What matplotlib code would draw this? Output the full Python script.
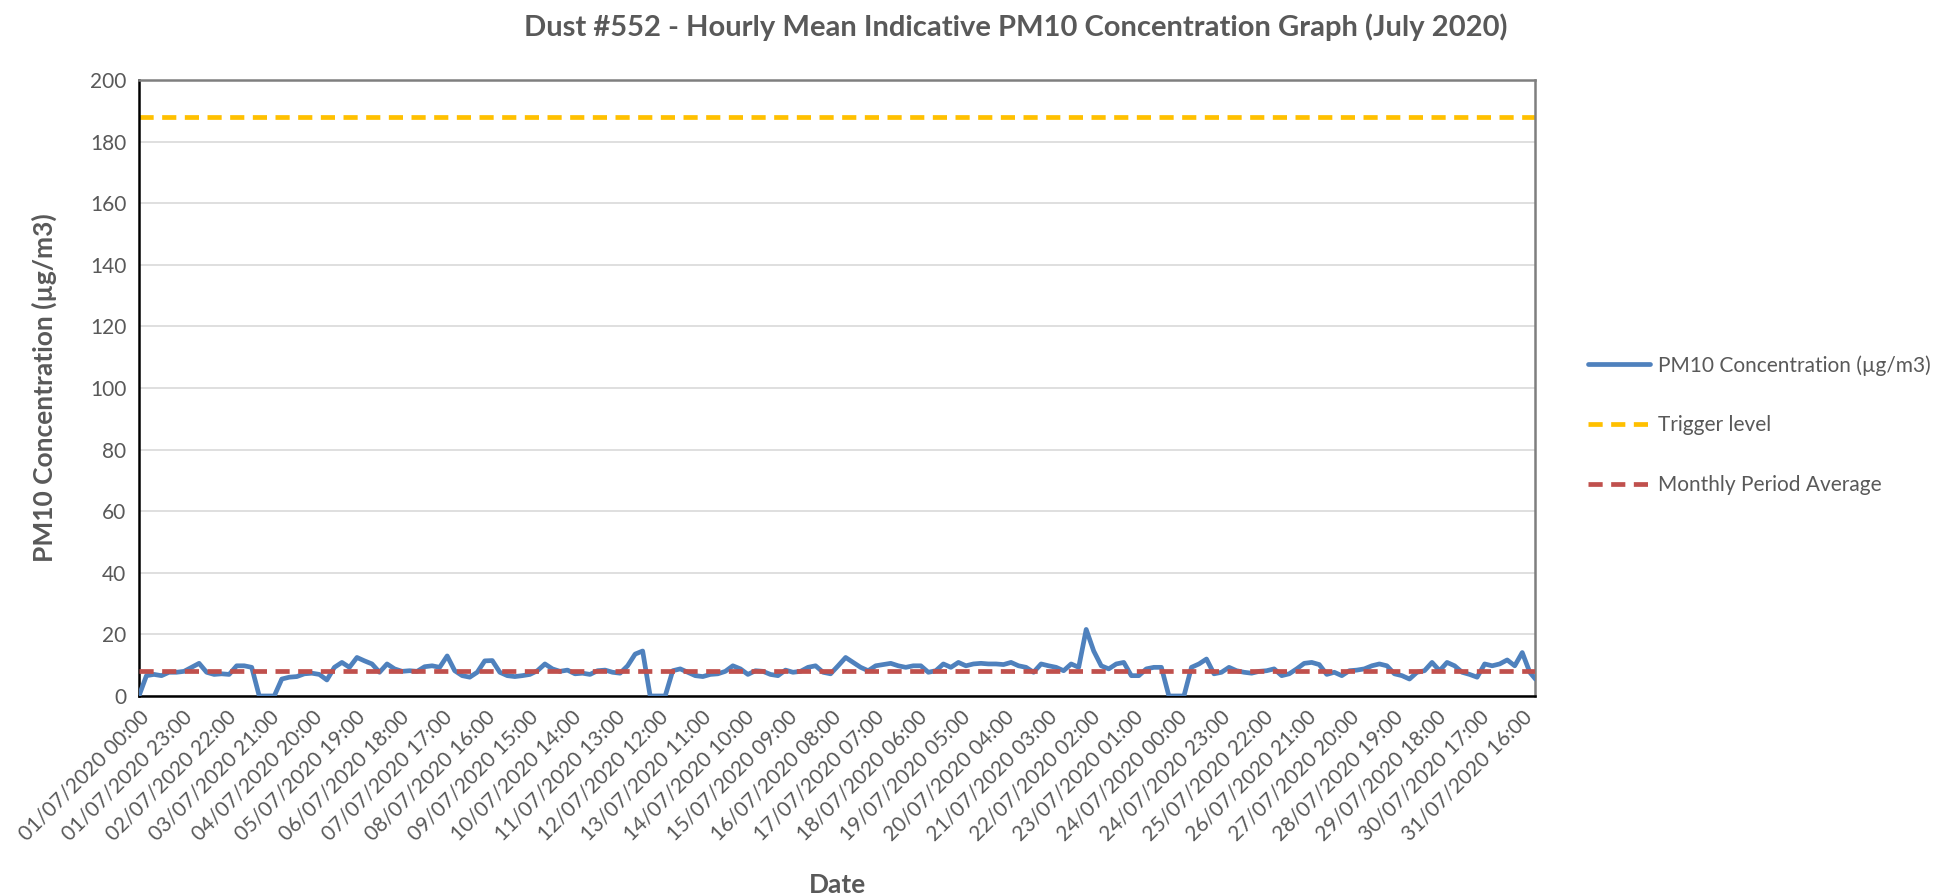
import datetime
import numpy as np
from matplotlib import pyplot as plt

# Hourly PM10 readings, every 4 hours (plus the last hour)
hours = list(range(0, 744, 4)) + [743]
pm10 = [
    0.0, 6.6, 7.0, 6.6, 7.7, 7.7, 8.0, 9.3, 10.6, 7.7, 7.0, 7.2, 7.0, 9.8, 9.8, 9.3,
    0.0, 0.0, 0.0, 5.5, 6.1, 6.3, 7.2, 7.4, 7.0, 5.2, 9.3, 10.9, 9.3, 12.5, 11.4, 10.4,
    7.7, 10.4, 8.8, 8.0, 8.2, 8.0, 9.5, 9.8, 9.3, 13.0, 8.2, 6.6, 6.1, 7.7, 11.4,
    11.5, 7.7, 6.6, 6.3, 6.6, 7.0, 8.2, 10.4, 8.8, 8.0, 8.4, 7.2, 7.4, 7.0, 8.2, 8.4,
    7.7, 7.4, 9.8, 13.6, 14.6, 0.0, 0.0, 0.0, 8.2, 8.8, 7.7, 6.6, 6.3, 7.0, 7.2, 8.0,
    9.8, 8.8, 7.0, 8.2, 8.0, 7.0, 6.6, 8.4, 7.7, 8.0, 9.3, 9.8, 7.7, 7.2,
    9.8, 12.5, 10.9, 9.3, 8.2, 9.8, 10.2, 10.6, 9.8, 9.3, 9.8, 9.8, 7.7, 8.2, 10.4, 9.3,
    10.9, 9.8, 10.4, 10.6, 10.4, 10.4, 10.2, 10.9, 9.8, 9.3, 7.7, 10.4, 9.8, 9.3, 8.2, 10.4,
    9.3, 21.6, 14.6, 9.8, 8.8, 10.4, 10.9, 6.6, 6.6, 8.8, 9.3, 9.3, 0.0, 0.0, 0.0,
    9.3, 10.4, 12.0, 7.2, 7.7, 9.3, 8.2, 7.7, 7.4, 8.0, 8.2, 8.8, 6.6, 7.2, 8.8, 10.6,
    10.9, 10.2, 7.0, 7.7, 6.6, 8.2, 8.4, 8.8, 9.8, 10.4, 9.8, 7.2, 6.6, 5.5, 7.7, 8.2,
    10.9, 8.2, 10.9, 9.8, 7.7, 7.0, 6.1, 10.4, 9.8, 10.4, 11.7, 9.8, 14.1, 7.7, 5.5,
]
trigger_level = 188
monthly_average = 8.2

# Category labels every 23 hours, as in the source workbook
start = datetime.datetime(2020, 7, 1, 0, 0)
tick_hours = list(range(0, 744, 23))
tick_labels = [(start + datetime.timedelta(hours=h)).strftime('%d/%m/%Y %H:%M') for h in tick_hours]

text_grey = '#595959'
plt.rcParams['font.family'] = ['Lato', 'DejaVu Sans']


def main():
    fig = plt.figure(figsize=(19.46, 8.94), dpi=100)
    ax = fig.add_axes([0.0714, 0.2215, 0.7176, 0.689])

    ax.plot(hours, pm10, color='#4F81BD', linewidth=3.4, label='PM10 Concentration (µg/m3)',
            solid_joinstyle='round', solid_capstyle='round', zorder=3)
    ax.axhline(trigger_level, color='#FFC000', linewidth=3.4, linestyle=(0, (3.0, 1.8)),
               label='Trigger level', zorder=2)
    ax.axhline(monthly_average, color='#C0504D', linewidth=3.4, linestyle=(0, (3.0, 1.8)),
               label='Monthly Period Average', zorder=4)

    ax.set_xlim(0, 743)
    ax.set_ylim(0, 200)
    ax.set_yticks(range(0, 201, 20))
    ax.set_xticks(tick_hours)
    ax.set_xticklabels(tick_labels, rotation=45, ha='right', rotation_mode='anchor')
    ax.tick_params(axis='both', colors=text_grey, labelsize=15, length=0, pad=9)
    ax.tick_params(axis='x', pad=8)
    ax.grid(axis='y', color='#D9D9D9', linewidth=1.2)
    ax.set_axisbelow(True)

    for side in ['left', 'bottom']:
        ax.spines[side].set_color('black')
        ax.spines[side].set_linewidth(1.8)
    for side in ['top', 'right']:
        ax.spines[side].set_color('#7F7F7F')
        ax.spines[side].set_linewidth(1.8)

    ax.set_ylabel('PM10 Concentration (µg/m3)', fontsize=19, fontweight='bold', color=text_grey, labelpad=24)
    ax.set_xlabel('Date', fontsize=19, fontweight='bold', color=text_grey, labelpad=20)
    fig.suptitle('Dust #552 - Hourly Mean Indicative PM10 Concentration Graph (July 2020)',
                 x=0.522, y=0.985, fontsize=21, fontweight='bold', color=text_grey)

    leg = ax.legend(loc='center left', bbox_to_anchor=(1.024, 0.44), frameon=False,
                    fontsize=15, labelspacing=1.9, handlelength=3.0, handletextpad=0.4)
    for t in leg.get_texts():
        t.set_color(text_grey)

    plt.savefig('out.png', dpi=100)


if __name__ == "__main__":
    main()
